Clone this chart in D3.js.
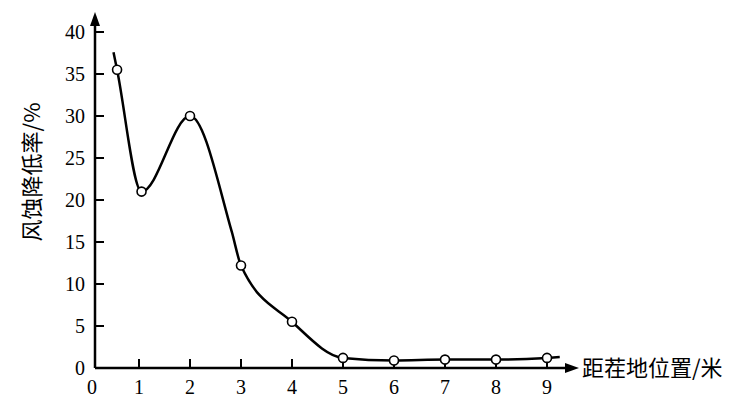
<!DOCTYPE html>
<html>
<head>
<meta charset="utf-8">
<script src="https://cdn.jsdelivr.net/npm/d3@7"></script>
<style>
  body { margin: 0; background: #fff; }
  svg { display: block; }
</style>
</head>
<body>
<svg></svg>
<script>
// 数据
const xTicks = [0, 1, 2, 3, 4, 5, 6, 7, 8, 9];
const yTicks = [0, 5, 10, 15, 20, 25, 30, 35, 40];
const distance = [0.57, 1.05, 2, 3, 4, 5, 6, 7, 8, 9];
const reduction = [35.5, 21, 30, 12.2, 5.5, 1.2, 0.9, 1.0, 1.0, 1.2];
// 曲线上额外读取的点（两端延伸与拐点）
const curveStart = [0.5, 37.6];
const curveKnee = [2.82, 16.2];
const curveEnd = [9.25, 1.3];

const width = 742, height = 403;
const svg = d3.select("svg").attr("width", width).attr("height", height);

const x = d3.scaleLinear().domain([1, 9]).range([139, 547]);
const y = d3.scaleLinear().domain([0, 40]).range([368, 32]);
const x0 = 95; // 纵轴位置

const serif = "'Liberation Serif', 'DejaVu Serif', serif";
const cjk = "'Noto Sans CJK SC', sans-serif";

// 坐标轴
svg.append("line")
  .attr("x1", x0).attr("y1", y(0))
  .attr("x2", x0).attr("y2", 22)
  .attr("stroke", "#000").attr("stroke-width", 2.5);
svg.append("path")
  .attr("d", `M${x0},12 L${x0 - 5},26 L${x0 + 5},26 Z`)
  .attr("fill", "#000");
svg.append("line")
  .attr("x1", x0).attr("y1", y(0))
  .attr("x2", 568).attr("y2", y(0))
  .attr("stroke", "#000").attr("stroke-width", 2.5);
svg.append("path")
  .attr("d", `M579,${y(0)} L565,${y(0) - 5} L565,${y(0) + 5} Z`)
  .attr("fill", "#000");

// y 刻度
const yg = svg.append("g");
yg.selectAll("line").data(yTicks.filter(d => d > 0)).enter().append("line")
  .attr("x1", x0).attr("x2", x0 + 9)
  .attr("y1", d => y(d)).attr("y2", d => y(d))
  .attr("stroke", "#000").attr("stroke-width", 2);
yg.selectAll("text").data(yTicks).enter().append("text")
  .attr("x", 85).attr("y", d => y(d))
  .attr("dy", "0.35em")
  .attr("text-anchor", "end")
  .attr("font-family", serif).attr("font-size", 20)
  .text(d => d);

// x 刻度
const xg = svg.append("g");
xg.selectAll("line").data(xTicks.filter(d => d > 0)).enter().append("line")
  .attr("x1", d => x(d)).attr("x2", d => x(d))
  .attr("y1", y(0)).attr("y2", y(0) - 9)
  .attr("stroke", "#000").attr("stroke-width", 2);
xg.selectAll("text").data(xTicks).enter().append("text")
  .attr("x", d => d === 0 ? 92 : x(d)).attr("y", 394)
  .attr("text-anchor", "middle")
  .attr("font-family", serif).attr("font-size", 20)
  .text(d => d);

// 轴标题
svg.append("text")
  .attr("transform", "translate(40,172) rotate(-90)")
  .attr("text-anchor", "middle")
  .attr("font-family", cjk).attr("font-size", 22)
  .text("风蚀降低率/%");
svg.append("text")
  .attr("x", 582).attr("y", y(0)).attr("dy", "0.35em")
  .attr("font-family", cjk).attr("font-size", 22)
  .text("距茬地位置/米");

// 曲线
const pts = distance.map((d, i) => [d, reduction[i]]);
const linePts = [curveStart, ...pts.slice(0, 3), curveKnee, ...pts.slice(3), curveEnd];
const line = d3.line()
  .x(d => x(d[0])).y(d => y(d[1]))
  .curve(d3.curveMonotoneX);
svg.append("path")
  .datum(linePts)
  .attr("d", line)
  .attr("fill", "none")
  .attr("stroke", "#000")
  .attr("stroke-width", 2.5);

// 数据点
svg.selectAll("circle").data(pts).enter().append("circle")
  .attr("cx", d => x(d[0])).attr("cy", d => y(d[1]))
  .attr("r", 4.5)
  .attr("fill", "#fff")
  .attr("stroke", "#000")
  .attr("stroke-width", 1.6);
</script>
</body>
</html>
